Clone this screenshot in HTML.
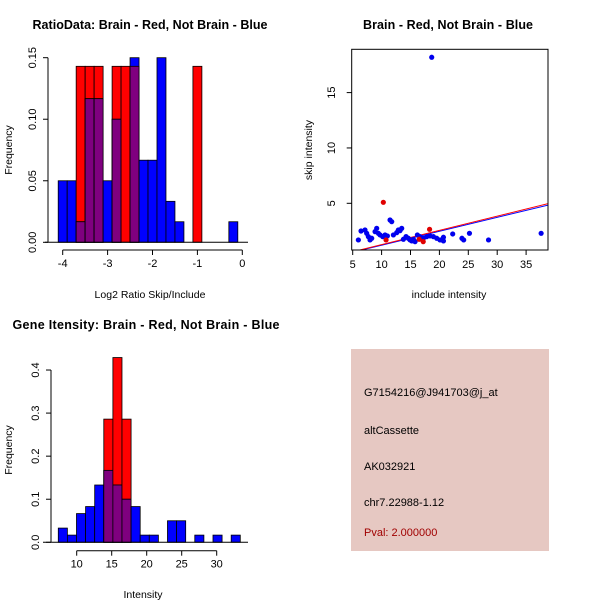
<!DOCTYPE html>
<html><head><meta charset="utf-8"><style>
body{margin:0;background:#fff}
svg{display:block;font-family:"Liberation Sans",sans-serif}
</style></head><body>
<svg id="c" width="600" height="600" viewBox="0 0 600 600" xmlns="http://www.w3.org/2000/svg">
<rect width="600" height="600" fill="#fff"/>
<g font-weight="bold" font-size="12.5" fill="#000">
<text x="150" y="29" text-anchor="middle" textLength="235">RatioData: Brain - Red, Not Brain - Blue</text>
<text x="448" y="29" text-anchor="middle" textLength="170">Brain - Red, Not Brain - Blue</text>
<text x="146" y="329" text-anchor="middle" textLength="267">Gene Itensity: Brain - Red, Not Brain - Blue</text>
</g>
<g id="h1"></g>
<g id="sc"></g>
<g id="h2"></g>
<g font-size="11">
<rect x="351" y="349" width="198" height="202" fill="#e6c8c2"/>
<text x="364" y="396">G7154216@J941703@j_at</text>
<text x="364" y="434">altCassette</text>
<text x="364" y="470">AK032921</text>
<text x="364" y="506">chr7.22988-1.12</text>
<text x="364" y="536" fill="#a00000">Pval: 2.000000</text>
</g>
</svg>
<script>
// Ratio histogram data (bins start at -4.1, width 0.2)
const ratioBinStart=-4.1, ratioBinWidth=0.2;
const ratioBlue=[0.05,0.05,0.0167,0.1167,0.1167,0.05,0.1,0,0.15,0.0667,0.0667,0.15,0.0333,0.0167,0,0,0,0,0,0.0167];
const ratioRed=[0,0,0.143,0.143,0.143,0,0.143,0.143,0.143,0,0,0,0,0,0,0.143,0,0,0,0];
const ratioXTicks=[-4,-3,-2,-1,0];
const ratioYTicks=["0.00","0.05","0.10","0.15"];
// Intensity histogram data
const intBinStart=7.37, intBinWidth=1.3;
const intBlue=[0.033,0.0167,0.0667,0.083,0.133,0.167,0.133,0.1,0.083,0.0167,0.0167,0,0.05,0.05,0,0.0167,0,0.0167,0,0.0167];
const intRed=[0,0,0,0,0,0.286,0.429,0.286,0,0,0,0,0,0,0,0,0,0,0,0];
const intXTicks=[10,15,20,25,30];
const intYTicks=["0.0","0.1","0.2","0.3","0.4"];
// Scatter data
const blueX=[5.98,6.44,7.13,7.42,7.71,8.0,8.29,8.87,9.15,9.44,9.73,10.19,10.6,11.0,11.46,11.75,12.04,12.62,12.9,13.19,13.48,13.77,14.23,14.63,14.92,15.21,15.5,15.79,16.19,16.65,17.23,17.81,18.38,18.67,18.96,19.54,20.1,20.7,20.7,22.3,23.9,24.2,25.2,28.5,37.6];
const blueY=[1.69,2.5,2.59,2.29,1.99,1.69,1.84,2.44,2.74,2.29,2.14,1.99,2.14,2.05,3.49,3.34,2.14,2.35,2.59,2.53,2.74,1.75,1.99,1.84,1.69,1.6,1.75,1.54,2.14,1.99,1.84,1.99,2.05,18.19,1.99,1.84,1.69,1.93,1.6,2.23,1.84,1.69,2.29,1.69,2.29];
const redX=[10.3,10.77,16.5,17.2,18.3];
const redY=[5.09,1.69,1.75,1.54,2.65];
const fitBlue=[-0.04,0.1256];
const fitRed=[-0.02,0.1286];
const scXTicks=[5,10,15,20,25,30,35];
const scYTicks=[5,10,15];

const NS="http://www.w3.org/2000/svg";
function mk(p,t,a){const e=document.createElementNS(NS,t);for(const k in a)e.setAttribute(k,a[k]);p.appendChild(e);return e;}

function hist(g,blue,red,start,w,X,Y,base,x0,x1){
  for(let i=0;i<blue.length;i++){
    const a=start+i*w,b=a+w,xa=X(a),xb=X(b);
    const r=red[i],bl=blue[i],m=Math.min(r,bl);
    if(r>0){const e=mk(g,'rect',{x:xa,y:Y(r),width:xb-xa,height:Y(0)-Y(r),fill:'#ff0000',stroke:'#000','stroke-width':0.8});
      
      }
    if(bl>0){const e=mk(g,'rect',{x:xa,y:Y(bl),width:xb-xa,height:Y(0)-Y(bl),fill:'#0000ff',stroke:'#000','stroke-width':0.8});
      
      }
    if(m>0){const e=mk(g,'rect',{x:xa,y:Y(m),width:xb-xa,height:Y(0)-Y(m),fill:'#7f007f',stroke:'#000','stroke-width':0.8});
      
      }
  }
  mk(g,'line',{x1:x0,x2:x1,y1:base,y2:base,stroke:'#000'});
}
function yAxis(g,ticks,Y,ax,name){
  const ys=ticks.map(t=>Y(parseFloat(t)));
  mk(g,'line',{x1:ax,x2:ax,y1:Math.min(...ys),y2:Math.max(...ys),stroke:'#000'});
  ticks.forEach(t=>{const y=Y(parseFloat(t));mk(g,'line',{x1:ax-5,x2:ax,y1:y,y2:y,stroke:'#000'});
    const tx=mk(g,'text',{x:ax-12,y:y,'font-size':11,'text-anchor':'middle',transform:`rotate(-90 ${ax-12} ${y})`});tx.textContent=t;
    
    });
}
function xAxis(g,ticks,X,ay,name){
  mk(g,'line',{x1:X(ticks[0]),x2:X(ticks[ticks.length-1]),y1:ay,y2:ay,stroke:'#000'});
  ticks.forEach(t=>{const x=X(t);mk(g,'line',{x1:x,x2:x,y1:ay,y2:ay+5,stroke:'#000'});
    const tx=mk(g,'text',{x:x,y:ay+17,'font-size':11,'text-anchor':'middle'});tx.textContent=t;
    
    });
}
function label(g,txt,x,y,rot,name){const t=mk(g,'text',{x:x,y:y,'font-size':10.5,'text-anchor':'middle'});
  if(rot)t.setAttribute('transform',`rotate(-90 ${x} ${y})`);t.textContent=txt;
  
  }

// Panel 1
{const g=document.getElementById('h1');
 const X=v=>62.7+(v+4)*44.9, Y=v=>242.3-v*1230.7;
 hist(g,ratioBlue,ratioRed,ratioBinStart,ratioBinWidth,X,Y,242.3,45,248);
 yAxis(g,ratioYTicks,Y,48,'y-tick-label');
 xAxis(g,ratioXTicks,X,250,'x-tick-label');
 label(g,'Log2 Ratio Skip/Include',150,298,false,'x-axis-title');
 label(g,'Frequency',12,150,true,'y-axis-title');}
// Panel 3
{const g=document.getElementById('h2');
 const X=v=>76.7+(v-10)*7, Y=v=>542.3-v*430.7;
 hist(g,intBlue,intRed,intBinStart,intBinWidth,X,Y,542.3,43,248);
 yAxis(g,intYTicks,Y,51,'y-tick-label');
 xAxis(g,intXTicks,X,550.7,'x-tick-label');
 label(g,'Intensity',143,598,false,'x-axis-title');
 label(g,'Frequency',12,450,true,'y-axis-title');}
// Scatter
{const g=document.getElementById('sc');
 const X=v=>352.7+(v-5)*5.78, Y=v=>203.3-(v-5)*11.07;
 const L=351.7,R=548,T=49.3,B=250;
 const cp=mk(g,'clipPath',{id:'scclip'});mk(cp,'rect',{x:L,y:T,width:R-L,height:B-T});
 const pg=mk(g,'g',{'clip-path':'url(#scclip)'});
 const x0=4.9,x1=39;
 const lb=mk(pg,'line',{x1:X(x0),y1:Y(fitBlue[0]+fitBlue[1]*x0),x2:X(x1),y2:Y(fitBlue[0]+fitBlue[1]*x1),stroke:'#0000ff'});
 
 
 const lr=mk(pg,'line',{x1:X(x0),y1:Y(fitRed[0]+fitRed[1]*x0),x2:X(x1),y2:Y(fitRed[0]+fitRed[1]*x1),stroke:'#ff0000'});
 
 
 blueX.forEach((x,i)=>{const c=mk(pg,'circle',{cx:X(x),cy:Y(blueY[i]),r:2.6,fill:'#0000ee'});
   
   });
 redX.forEach((x,i)=>{const c=mk(pg,'circle',{cx:X(x),cy:Y(redY[i]),r:2.6,fill:'#e00000'});
   
   });
 mk(g,'rect',{x:L,y:T,width:R-L,height:B-T,fill:'none',stroke:'#000'});
 scXTicks.forEach(t=>{const x=X(t);mk(g,'line',{x1:x,x2:x,y1:B,y2:B+5,stroke:'#000'});
   const tx=mk(g,'text',{x:x,y:B+18,'font-size':11,'text-anchor':'middle'});tx.textContent=t;
   
   });
 scYTicks.forEach(t=>{const y=Y(t);mk(g,'line',{x1:L-5,x2:L,y1:y,y2:y,stroke:'#000'});
   const tx=mk(g,'text',{x:335,y:y,'font-size':11,'text-anchor':'middle',transform:`rotate(-90 335 ${y})`});tx.textContent=t;
   
   });
 label(g,'include intensity',449,298,false,'x-axis-title');
 label(g,'skip intensity',312,150,true,'y-axis-title');}
</script>
</body></html>
